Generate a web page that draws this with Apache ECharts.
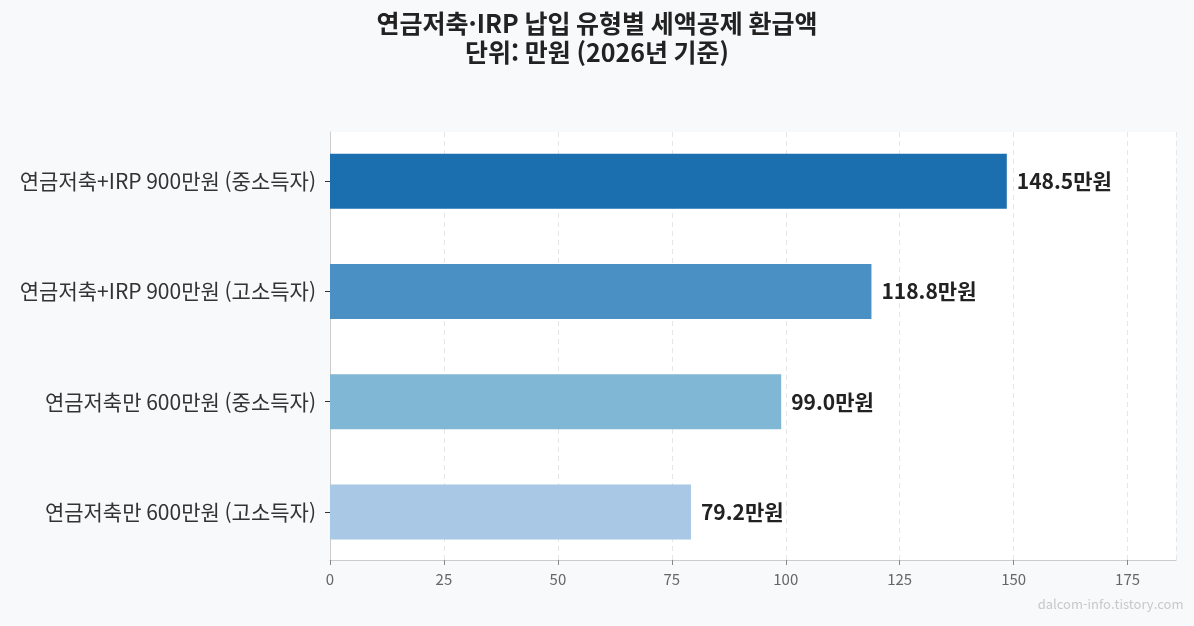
<!DOCTYPE html>
<html lang="ko">
<head>
    <meta charset="UTF-8">
    <title>연금저축·IRP 납입 유형별 세액공제 환급액</title>
    <script src="https://cdn.jsdelivr.net/npm/echarts@6/dist/echarts.min.js"></script>
    <style>
        html, body { margin: 0; padding: 0; background: #f8f9fb; }
        #main { width: 1194px; height: 626px; }
    </style>
</head>
<body>
<div id="main"></div>
<script type="text/javascript">
    // 데이터 (위에서 아래 순서)
    const categories = [
        '연금저축+IRP 900만원 (중소득자)',
        '연금저축+IRP 900만원 (고소득자)',
        '연금저축만 600만원 (중소득자)',
        '연금저축만 600만원 (고소득자)'
    ];
    const refundValues = [148.5, 118.8, 99.0, 79.2];
    const barColors = ['#1c6fae', '#4a90c4', '#80b7d5', '#a8c8e6'];
    const xTicks = [0, 25, 50, 75, 100, 125, 150, 175];

    const font = '"Noto Sans CJK KR", "Noto Sans", sans-serif';
    const xMax = refundValues[0] * 1.25;

    let myChart = echarts.init(document.getElementById('main'));
    let option = {
        backgroundColor: '#f8f9fb',
        textStyle: { fontFamily: font },
        animation: false,
        title: {
            text: '연금저축·IRP 납입 유형별 세액공제 환급액\n단위: 만원 (2026년 기준)',
            left: 'center',
            top: 4,
            textStyle: {
                fontFamily: font,
                fontSize: 25,
                fontWeight: 'bold',
                color: '#222',
                lineHeight: 29
            }
        },
        graphic: [{
            type: 'text',
            right: 12,
            top: 598,
            style: {
                text: 'dalcom-info.tistory.com',
                font: '13px ' + font,
                fill: '#c8c8c8'
            }
        }],
        grid: [
            // 막대용
            { left: 330, right: 18, top: 126, height: 441 },
            // 배경/축용
            { left: 330, right: 18, top: 132, bottom: 66, show: true, backgroundColor: '#ffffff', borderWidth: 0 }
        ],
        xAxis: [
            {
                gridIndex: 0, type: 'value', min: 0, max: xMax, interval: 25,
                show: false
            },
            {
                gridIndex: 1, type: 'value', min: 0, max: xMax, interval: 25,
                axisLine: { show: true, lineStyle: { color: '#cccccc', width: 1 } },
                axisTick: { show: true, length: 5, lineStyle: { color: '#888' } },
                axisLabel: {
                    color: '#666', fontSize: 15, margin: 12,
                    showMaxLabel: false,
                    formatter: (v) => xTicks.indexOf(v) >= 0 ? String(v) : ''
                },
                splitLine: { show: true, lineStyle: { color: '#e6e6e6', type: [5, 4] } }
            }
        ],
        yAxis: [
            {
                gridIndex: 0, type: 'category', data: categories, inverse: true,
                axisLine: { show: false },
                axisTick: { show: true, alignWithLabel: true, length: 5, lineStyle: { color: '#333' } },
                axisLabel: { color: '#333', fontSize: 21, margin: 14 }
            },
            {
                gridIndex: 1, type: 'category', data: categories, inverse: true,
                axisLine: { show: true, lineStyle: { color: '#cccccc', width: 1 } },
                axisTick: { show: false },
                axisLabel: { show: false }
            }
        ],
        series: [{
            type: 'bar',
            xAxisIndex: 0,
            yAxisIndex: 0,
            barWidth: 55,
            z: 3,
            data: refundValues.map((v, i) => ({
                value: v,
                itemStyle: { color: barColors[i] }
            })),
            label: {
                show: true,
                position: 'right',
                distance: 10,
                fontSize: 21,
                fontWeight: 'bold',
                color: '#222',
                formatter: (p) => p.value.toFixed(1) + '만원'
            }
        }]
    };
    myChart.setOption(option);
</script>
</body>
</html>
